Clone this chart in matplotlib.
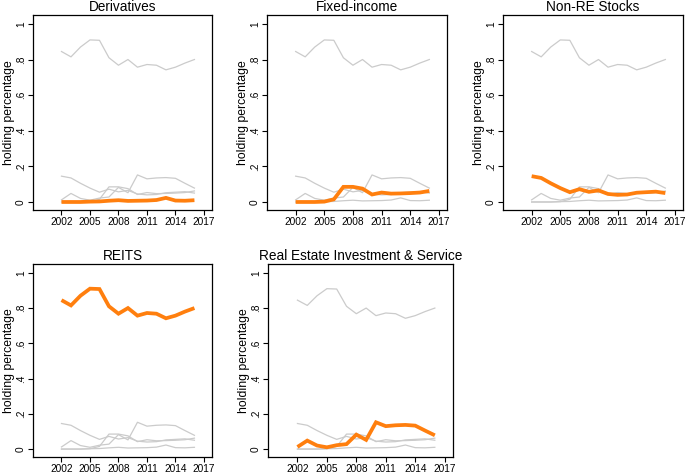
import matplotlib
matplotlib.use('Agg')
import matplotlib.pyplot as plt

plt.rcParams['font.family'] = ['Liberation Sans', 'DejaVu Sans']

# ----------------
# DATA
# ----------------

years = list(range(2002, 2017))

derivatives = [0.0, 0.0, 0.0, 0.002, 0.003, 0.007, 0.010, 0.006, 0.007, 0.008, 0.011, 0.023, 0.008, 0.007, 0.010]
fixed_income = [0.0, 0.0, 0.0, 0.002, 0.015, 0.085, 0.085, 0.075, 0.042, 0.053, 0.047, 0.048, 0.050, 0.053, 0.062]
non_re_stocks = [0.145, 0.135, 0.105, 0.078, 0.055, 0.072, 0.057, 0.065, 0.045, 0.040, 0.042, 0.052, 0.055, 0.058, 0.050]
reits = [0.845, 0.815, 0.870, 0.910, 0.908, 0.810, 0.768, 0.800, 0.757, 0.772, 0.768, 0.742, 0.757, 0.780, 0.800]
re_invest = [0.012, 0.048, 0.020, 0.010, 0.022, 0.028, 0.082, 0.052, 0.152, 0.130, 0.135, 0.137, 0.133, 0.105, 0.078]

titles = ['Derivatives', 'Fixed-income', 'Non-RE Stocks', 'REITS',
          'Real Estate Investment & Service']
series = [derivatives, fixed_income, non_re_stocks, reits, re_invest]

x_ticks = [2002, 2005, 2008, 2011, 2014, 2017]
y_ticks = [0, 0.2, 0.4, 0.6, 0.8, 1.0]
y_tick_labels = ['0', '.2', '.4', '.6', '.8', '1']

# ----------------
# PLOT
# ----------------

fig = plt.figure(figsize=(6.85, 4.73), dpi=100)
W, H = 685, 473

# pixel boxes (left, top, right, bottom)
boxes = [(33, 15, 212, 210), (267, 15, 447, 210), (503, 15, 683, 210),
         (33, 264, 212, 457), (268, 264, 453, 457)]

for i, (title, vals) in enumerate(zip(titles, series)):
    l, t, r, b = boxes[i]
    ax = fig.add_axes([l / W, 1 - b / H, (r - l) / W, (b - t) / H])
    for j, other in enumerate(series):
        if j != i:
            ax.plot(years, other, color='#cbcbcb', lw=0.9, zorder=1)
    ax.plot(years, vals, color='#ff7f0e', lw=2.7, zorder=3,
            solid_capstyle='butt', solid_joinstyle='miter')
    ax.set_xlim(1999.0, 2017.85)
    ax.set_ylim(-0.045, 1.05)
    ax.set_xticks(x_ticks)
    ax.set_xticklabels([str(v) for v in x_ticks], fontsize=7.3)
    ax.set_yticks(y_ticks)
    ax.set_yticklabels(y_tick_labels, fontsize=7.3, rotation=90, va='center')
    ax.set_ylabel('holding percentage', fontsize=8.8, labelpad=1)
    ax.set_title(title, fontsize=9.8, pad=3)
    ax.tick_params(length=3.5, width=0.8, pad=1.5)
    for sp in ax.spines.values():
        sp.set_linewidth(0.9)

fig.savefig('out.png', dpi=100, facecolor='white')
plt.close()
